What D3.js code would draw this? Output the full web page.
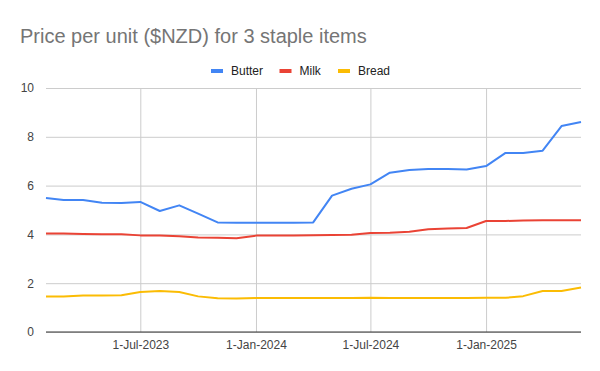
<!DOCTYPE html>
<html>
<head>
<meta charset="utf-8">
<script src="https://cdn.jsdelivr.net/npm/d3@7"></script>
<style>
  body { margin: 0; background: #fff; }
  text { font-family: Arial, "Liberation Sans", sans-serif; }
</style>
</head>
<body>
<svg id="chart" width="600" height="371"></svg>
<script>
// monthly observations, Feb 2023 .. Jun 2025
const months = [
  "2023-02-01", "2023-03-01", "2023-04-01", "2023-05-01", "2023-06-01", "2023-07-01",
  "2023-08-01", "2023-09-01", "2023-10-01", "2023-11-01", "2023-12-01", "2024-01-01",
  "2024-02-01", "2024-03-01", "2024-04-01", "2024-05-01", "2024-06-01", "2024-07-01",
  "2024-08-01", "2024-09-01", "2024-10-01", "2024-11-01", "2024-12-01", "2025-01-01",
  "2025-02-01", "2025-03-01", "2025-04-01", "2025-05-01", "2025-06-01"
];

const butter = [
  5.49, 5.41, 5.41, 5.30, 5.29, 5.33, 4.96, 5.19, 4.85, 4.49, 4.48, 4.48,
  4.48, 4.48, 4.49, 5.59, 5.87, 6.05, 6.53, 6.64, 6.68, 6.68, 6.66, 6.80,
  7.34, 7.34, 7.43, 8.44, 8.61
];

const milk = [
  4.04, 4.04, 4.02, 4.01, 4.01, 3.96, 3.95, 3.92, 3.87, 3.86, 3.84, 3.95,
  3.95, 3.96, 3.97, 3.98, 3.99, 4.06, 4.07, 4.11, 4.21, 4.24, 4.26, 4.55,
  4.55, 4.57, 4.58, 4.58, 4.58
];

const bread = [
  1.45, 1.45, 1.50, 1.50, 1.51, 1.64, 1.68, 1.64, 1.46, 1.38, 1.37, 1.39,
  1.39, 1.39, 1.39, 1.39, 1.39, 1.40, 1.39, 1.39, 1.39, 1.39, 1.39, 1.40,
  1.40, 1.47, 1.68, 1.68, 1.82
];

const seriesNames = ["Butter", "Milk", "Bread"];
const seriesColors = ["#4285f4", "#ea4335", "#fbbc04"];
const yTicks = [0, 2, 4, 6, 8, 10];
const xTicks = ["2023-07-01", "2024-01-01", "2024-07-01", "2025-01-01"];

const parse = d3.timeParse("%Y-%m-%d");
const dates = months.map(parse);
const series = [butter, milk, bread].map((vals, i) => ({
  name: seriesNames[i],
  color: seriesColors[i],
  values: vals.map((v, j) => ({ date: dates[j], v }))
}));

const svg = d3.select("#chart");
const plotL = 46, plotR = 581, plotT = 88, plotB = 332;

const x = d3.scaleTime().domain(d3.extent(dates)).range([plotL, plotR]);
const y = d3.scaleLinear().domain([0, 10]).range([plotB, plotT]);

// title
svg.append("text")
  .attr("x", 20)
  .attr("y", 43)
  .attr("font-size", 20)
  .attr("fill", "#757575")
  .text("Price per unit ($NZD) for 3 staple items");

// legend
const legendX = [211, 279.5, 338];
const legend = svg.selectAll(".legend")
  .data(series)
  .join("g")
  .attr("transform", (d, i) => `translate(${legendX[i]},71)`);

legend.append("rect")
  .attr("x", 0).attr("y", -2)
  .attr("width", 12).attr("height", 4)
  .attr("fill", d => d.color);

legend.append("text")
  .attr("x", 20).attr("y", 4.3)
  .attr("font-size", 12)
  .attr("fill", "#222")
  .text(d => d.name);

// horizontal grid + y labels
const yAxis = d3.axisLeft(y).tickValues(yTicks).tickSize(-(plotR - plotL)).tickPadding(12);
const gy = svg.append("g").attr("transform", `translate(${plotL},0)`).call(yAxis);
gy.select(".domain").remove();
gy.selectAll("line").attr("stroke", "#cccccc");
gy.selectAll("text").attr("font-size", 12).attr("fill", "#444").attr("font-family", "Arial, 'Liberation Sans', sans-serif");

// vertical grid + x labels
const xAxis = d3.axisBottom(x)
  .tickValues(xTicks.map(parse))
  .tickSize(-(plotB - plotT))
  .tickPadding(8)
  .tickFormat(d3.timeFormat("1-%b-%Y"));
const gx = svg.append("g").attr("transform", `translate(0,${plotB})`).call(xAxis);
gx.select(".domain").remove();
gx.selectAll("line").attr("stroke", "#cccccc");
gx.selectAll("text").attr("font-size", 12).attr("fill", "#444").attr("font-family", "Arial, 'Liberation Sans', sans-serif");

// baseline
svg.append("line")
  .attr("x1", plotL).attr("x2", plotR)
  .attr("y1", y(0)).attr("y2", y(0))
  .attr("stroke", "#333").attr("stroke-width", 1);

// lines
const line = d3.line()
  .x(d => x(d.date))
  .y(d => y(d.v));

svg.selectAll(".series")
  .data(series)
  .join("path")
  .attr("d", d => line(d.values))
  .attr("fill", "none")
  .attr("stroke", d => d.color)
  .attr("stroke-width", 2)
  .attr("stroke-linejoin", "round");
</script>
</body>
</html>
